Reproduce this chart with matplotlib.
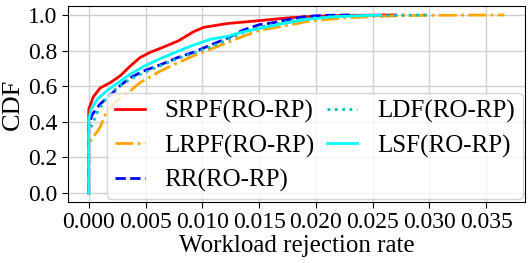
import matplotlib
matplotlib.use("Agg")
from matplotlib import pyplot as plt

plt.rcParams['font.family'] = ['Liberation Serif', 'DejaVu Serif']

# CDF curves (x = workload rejection rate, y = CDF)
srpf_x = [0, 0, 0.0004, 0.001, 0.0019, 0.0028, 0.0036, 0.0045, 0.0054, 0.0064, 0.0079,
          0.0092, 0.0101, 0.0122, 0.0150, 0.0178, 0.020, 0.023, 0.027]
srpf_y = [0, 0.47, 0.54, 0.59, 0.62, 0.66, 0.71, 0.76, 0.79, 0.815, 0.855,
          0.905, 0.93, 0.952, 0.968, 0.985, 0.993, 0.998, 1.0]

lrpf_x = [0, 0, 0.0003, 0.0007, 0.001, 0.0016, 0.0025, 0.0036, 0.0045, 0.0051, 0.0063,
          0.0078, 0.0092, 0.0107, 0.0122, 0.0136, 0.0151, 0.0165, 0.0178, 0.0192,
          0.0215, 0.0245, 0.0280, 0.0330, 0.0366]
lrpf_y = [0, 0.27, 0.31, 0.34, 0.37, 0.46, 0.52, 0.57, 0.62, 0.64, 0.685,
          0.73, 0.77, 0.807, 0.845, 0.88, 0.915, 0.93, 0.945, 0.963,
          0.978, 0.99, 0.997, 0.999, 1.0]

rr_x = [0, 0, 0.0003, 0.001, 0.0019, 0.0028, 0.0036, 0.0048, 0.0063, 0.0078, 0.0092,
        0.0107, 0.0122, 0.0136, 0.0150, 0.0163, 0.0178, 0.0192, 0.0210, 0.0230]
rr_y = [0, 0.38, 0.44, 0.50, 0.55, 0.605, 0.645, 0.685, 0.72, 0.76, 0.79,
        0.83, 0.87, 0.915, 0.945, 0.957, 0.977, 0.992, 0.998, 1.0]

ldf_x = [0, 0, 0.0004, 0.0008, 0.0014, 0.0021, 0.003, 0.0040, 0.0050, 0.0063, 0.0078,
         0.0092, 0.0107, 0.0122, 0.0136, 0.0150, 0.0165, 0.0180, 0.0200, 0.0230,
         0.0260, 0.0300]
ldf_y = [0, 0.34, 0.40, 0.46, 0.52, 0.57, 0.615, 0.65, 0.68, 0.715, 0.755,
         0.785, 0.82, 0.86, 0.90, 0.93, 0.95, 0.97, 0.985, 0.995,
         0.998, 1.0]

lsf_x = [0, 0, 0.0002, 0.0008, 0.0018, 0.0028, 0.0036, 0.0048, 0.0063, 0.0080, 0.0094,
         0.0108, 0.0122, 0.0136, 0.0151, 0.0170, 0.0190, 0.0215, 0.0257]
lsf_y = [0, 0.41, 0.47, 0.53, 0.585, 0.63, 0.665, 0.71, 0.755, 0.80, 0.835,
         0.865, 0.88, 0.905, 0.925, 0.95, 0.974, 0.99, 1.0]

fig = plt.figure(figsize=(5.31, 2.63), dpi=100)
ax = fig.add_axes([0.128, 0.232, 0.861, 0.745])

ax.plot(srpf_x, srpf_y, color="red", ls="-", lw=2, label="SRPF(RO-RP)")
ax.plot(lrpf_x, lrpf_y, color="orange", ls="-.", lw=2, label="LRPF(RO-RP)")
ax.plot(rr_x, rr_y, color="blue", ls="--", lw=2, label="RR(RO-RP)")
ax.plot(ldf_x, ldf_y, color="c", ls=":", lw=2, label="LDF(RO-RP)")
ax.plot(lsf_x, lsf_y, color="cyan", ls="-", lw=2, label="LSF(RO-RP)")

ax.set_xticks([0, 0.005, 0.01, 0.015, 0.02, 0.025, 0.03, 0.035])
ax.set_yticks([0, 0.2, 0.4, 0.6, 0.8, 1.0])
ax.tick_params(labelsize=17, length=4)
ax.set_xlabel("Workload rejection rate", fontsize=18, labelpad=1)
ax.set_ylabel("CDF", fontsize=19, labelpad=3)
ax.grid(True, color="#d0d0d0", lw=1)
ax.set_axisbelow(True)

ax.legend(ncol=2, loc="lower right", fontsize=18, handlelength=1.2,
          handletextpad=0.8, columnspacing=0.5, labelspacing=0.45,
          borderaxespad=0.1, borderpad=0.3)

fig.savefig("out.png", dpi=100)
